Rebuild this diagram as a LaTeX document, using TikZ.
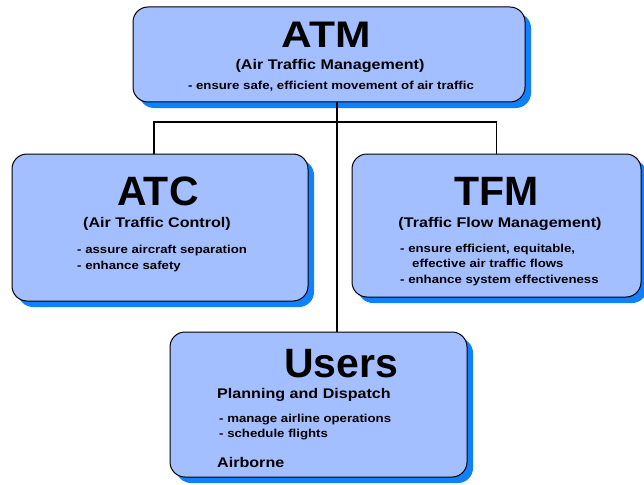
\documentclass[tikz,border=0pt]{standalone}
\usepackage{fontspec}
\setmainfont{Liberation Sans}
\newfontfamily\widefont[FakeStretch=1.15]{Liberation Sans}
\usetikzlibrary{shadows}
\definecolor{boxfill}{RGB}{164,191,255}
\definecolor{boxshade}{RGB}{16,128,255}
\begin{document}
\begin{tikzpicture}[x=1pt,y=-1pt,
  box/.style={draw, line width=1pt, fill=boxfill, rounded corners=15pt, inner sep=0pt,
    drop shadow={shadow xshift=6pt, shadow yshift=-6pt, fill=boxshade, opacity=1}},
  title/.style={font=\bfseries\fontsize{41}{41}\selectfont, inner sep=0pt, anchor=base},
  sub/.style={font=\widefont\bfseries\fontsize{14}{14}\selectfont, inner sep=0pt, anchor=base},
  item/.style={font=\widefont\bfseries\fontsize{11.5}{11.5}\selectfont, inner sep=0pt, anchor=base west},
  link/.style={draw, line width=1.5pt}]
\useasboundingbox (0,0) rectangle (644,484);

\node[box, minimum width=392pt, minimum height=95pt] (atm) at (329,54.5) {};
\node[box, minimum width=296pt, minimum height=147pt] (atc) at (160,227.5) {};
\node[box, minimum width=289pt, minimum height=143pt] (tfm) at (496.5,225.5) {};
\node[box, minimum width=297pt, minimum height=145pt] (users) at (318.5,404.5) {};

\coordinate (bus) at (337,122);
\path[link] (atm.south -| bus) -- (users.north -| bus);
\path[link] ([xshift=-6pt]atc.north) |- (bus) -| (tfm.north);

\node[title, font=\widefont\bfseries\fontsize{37}{37}\selectfont] (atmtitle) at (326,48) {ATM};
\node[sub] (atmsub) at (330,70) {(Air Traffic Management)};
\node[item, anchor=base] (atmgoal) at (331,90) {- ensure safe, efficient movement of air traffic};

\node[title] (atctitle) at (158,205) {ATC};
\node[sub] (atcsub) at (157,227) {(Air Traffic Control)};
\node[item] (atcgoal1) at (77,253) {- assure aircraft separation};
\node[item] (atcgoal2) at (77,269) {- enhance safety};

\node[title] (tfmtitle) at (497,205) {TFM};
\node[sub] (tfmsub) at (500,227) {(Traffic Flow Management)};
\node[item] (tfmgoal1) at (400,252) {- ensure efficient, equitable,};
\node[item] (tfmgoal2) at (412,267) {effective air traffic flows};
\node[item] (tfmgoal3) at (400,283) {- enhance system effectiveness};

\node[title] (userstitle) at (341,377) {Users};
\node[sub, anchor=base west] (planning) at (217,398) {Planning and Dispatch};
\node[item] (usersgoal1) at (219,422) {- manage airline operations};
\node[item] (usersgoal2) at (219,437) {- schedule flights};
\node[sub, anchor=base west] (airborne) at (217,467) {Airborne};
\end{tikzpicture}
\end{document}
